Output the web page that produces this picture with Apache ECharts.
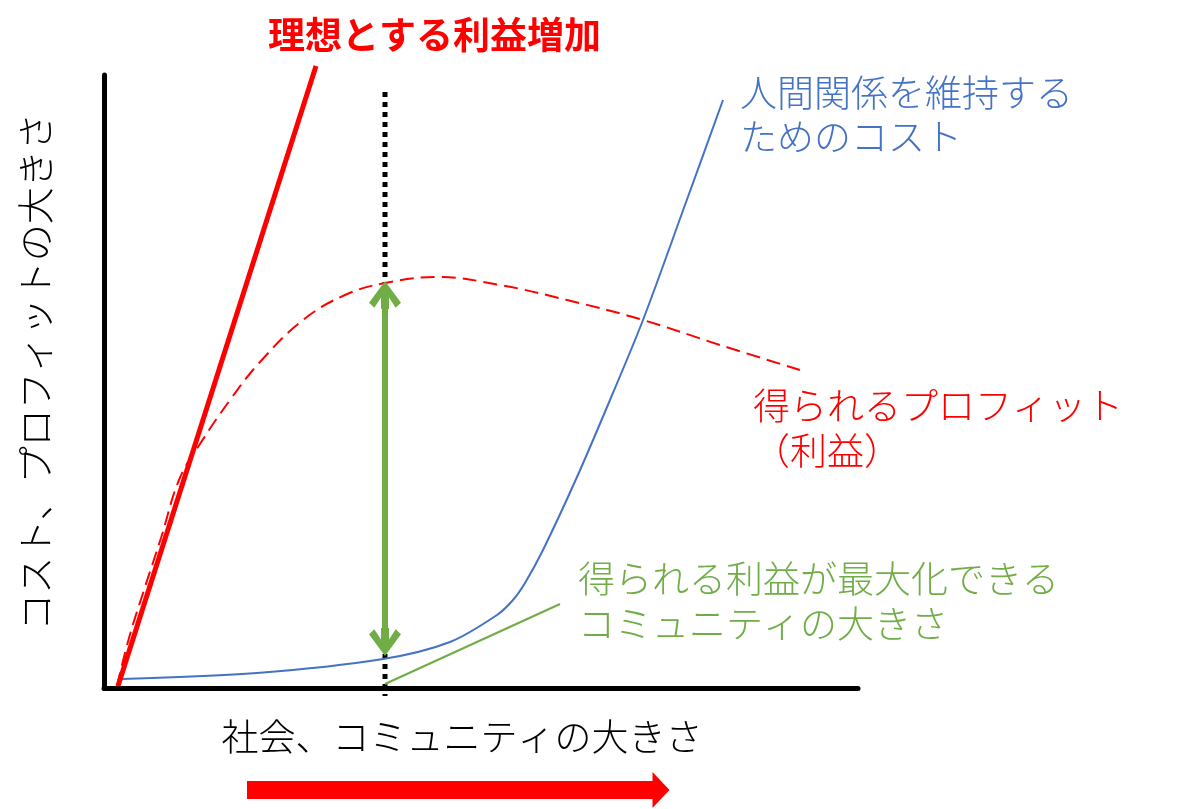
<!DOCTYPE html>
<html>
<head>
<meta charset="utf-8">
<script src="https://cdn.jsdelivr.net/npm/echarts@6/dist/echarts.min.js"></script>
<style>
  html, body { margin: 0; padding: 0; background: #fff; }
  #main { width: 1180px; height: 809px; }
</style>
</head>
<body>
<div id="main"></div>
<script>
// 単位は図の座標（横 0-754, 縦 0-613）
var costCurve = [[18, 9], [153, 15], [279, 29], [346, 46], [393, 73], [409, 88], [421, 105],
    [439, 138], [473, 211], [506, 288], [539, 368], [581, 483], [619, 588]];
var profitCurve = [[13, 2], [25, 50], [40, 98], [57, 150], [75, 208], [94, 241], [126, 288], [156, 326], [199, 368],
    [241, 393], [281, 405], [333, 411], [396, 403], [463, 388], [539, 368], [616, 343], [696, 318]];
var idealLine = [[14, 2], [212, 622]];
// 点線は矢印の部分で切る
var optimumLine = [[281, 596], [281, 405], null, [281, 34], [281, -8]];
var pointerLine = [[281, 4], [456, 84]];
var gapArrow = [[281, 393], [281, 46]];
var growthArrow = [[143, -102], [557, -102]];

var red = '#FF0000', blue = '#4472C4', green = '#70AD47';
var jp = '"Noto Sans CJK JP", "Noto Sans", sans-serif';
var chevron = 'path://M12,0 L24,17 L20,21 L15,13 L15,22 L9,22 L9,13 L4,21 L0,17 Z';

var chart = echarts.init(document.getElementById('main'));
chart.setOption({
    backgroundColor: '#fff',
    animation: false,
    grid: { left: 104, right: 322, top: 75, bottom: 121 },
    xAxis: {
        type: 'value', min: 0, max: 754,
        axisLine: { show: true, lineStyle: { color: '#000', width: 5 } },
        axisTick: { show: false }, axisLabel: { show: false }, splitLine: { show: false },
        name: '社会、コミュニティの大きさ',
        nameLocation: 'middle', nameGap: 30,
        nameTextStyle: { fontFamily: jp, fontSize: 37, fontWeight: 300, color: '#000', padding: [0, 38, 0, 0] }
    },
    yAxis: {
        type: 'value', min: 0, max: 613,
        axisLine: { show: true, lineStyle: { color: '#000', width: 5 } },
        axisTick: { show: false }, axisLabel: { show: false }, splitLine: { show: false },
        name: 'コスト、プロフィットの大きさ',
        nameLocation: 'middle', nameGap: 50, nameRotate: 90,
        nameTextStyle: { fontFamily: jp, fontSize: 37, fontWeight: 300, color: '#000', padding: [0, 0, 0, 19] }
    },
    series: [
        {
            type: 'line', data: optimumLine, symbol: 'none', silent: true, clip: false, z: 1,
            connectNulls: false,
            lineStyle: { color: '#000', width: 5, type: [5, 5], cap: 'butt' }
        },
        {
            type: 'line', data: costCurve, smooth: 0.3, symbol: 'none', silent: true,
            lineStyle: { color: blue, width: 2 }
        },
        {
            type: 'line', data: idealLine, symbol: 'none', silent: true, clip: false,
            lineStyle: { color: red, width: 5 }
        },
        {
            // 利益の破線は太線の上に描く
            type: 'line', data: profitCurve, smooth: 0.4, symbol: 'none', silent: true, z: 3,
            lineStyle: { color: red, width: 2, type: [14, 7] }
        },
        {
            type: 'line', data: pointerLine, symbol: 'none', silent: true, clip: false,
            lineStyle: { color: green, width: 2 }
        },
        {
            // 両矢印（最大利益）
            type: 'line', z: 5, silent: true, clip: false,
            showSymbol: true, showAllSymbol: true, symbolKeepAspect: false,
            itemStyle: { color: green, borderWidth: 0, opacity: 1 },
            lineStyle: { color: green, width: 6, type: 'solid' },
            data: [
                { value: gapArrow[0], symbol: chevron, symbolSize: [32, 28], symbolRotate: 0 },
                { value: gapArrow[1], symbol: chevron, symbolSize: [32, 28], symbolRotate: 180 }
            ]
        },
        {
            // 下の赤い矢印
            type: 'line', z: 5, silent: true, clip: false,
            showSymbol: true, showAllSymbol: true,
            itemStyle: { color: red, borderWidth: 0 },
            lineStyle: { color: red, width: 18, cap: 'butt' },
            data: [
                { value: growthArrow[0], symbol: 'none' },
                { value: growthArrow[1], symbol: 'triangle', symbolSize: [36, 17], symbolRotate: -90 }
            ]
        }
    ],
    graphic: [
        {
            type: 'text', left: 268, top: 16, silent: true,
            style: { text: '理想とする利益増加', fill: red, fontFamily: jp, fontSize: 37, fontWeight: 'bold' }
        },
        {
            type: 'text', left: 740, top: 71, silent: true,
            style: { text: '人間関係を維持する\nためのコスト', fill: blue, fontFamily: jp, fontSize: 37, fontWeight: 300, lineHeight: 44 }
        },
        {
            type: 'text', left: 753, top: 383, silent: true,
            style: { text: '得られるプロフィット\n（利益）', fill: red, fontFamily: jp, fontSize: 37, fontWeight: 300, lineHeight: 45 }
        },
        {
            type: 'text', left: 578, top: 556, silent: true,
            style: { text: '得られる利益が最大化できる\nコミュニティの大きさ', fill: green, fontFamily: jp, fontSize: 37, fontWeight: 300, lineHeight: 45 }
        }
    ]
});
</script>
</body>
</html>
